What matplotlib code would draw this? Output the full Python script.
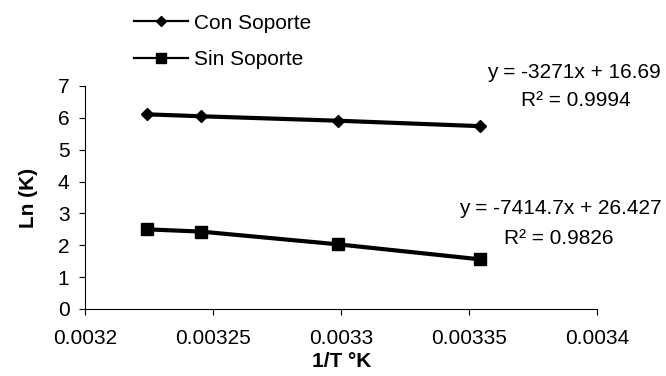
import numpy as np
from matplotlib import pyplot as plt
from matplotlib.lines import Line2D

plt.rcParams['font.family'] = ['Liberation Sans', 'DejaVu Sans']

# temperatures in C, x axis is 1/T in Kelvin
temps_c = [37, 35, 30, 25]
inv_t = [1 / (t + 273.15) for t in temps_c]
ln_k_con = [6.11, 6.05, 5.91, 5.74]
ln_k_sin = [2.50, 2.43, 2.03, 1.56]

eq_con = "y = -3271x + 16.69"
r2_con = "R² = 0.9994"
eq_sin = "y = -7414.7x + 26.427"
r2_sin = "R² = 0.9826"

x_ticks = [0.0032, 0.00325, 0.0033, 0.00335, 0.0034]
x_tick_labels = ["0.0032", "0.00325", "0.0033", "0.00335", "0.0034"]

fs = 15

fig = plt.figure(figsize=(6.66, 3.76), dpi=100)
ax = fig.add_axes([0.1276, 0.1782, 0.7695, 0.5931])

ax.plot(inv_t, ln_k_con, color='black', linewidth=3, marker='D',
        markersize=6.5, clip_on=False)
ax.plot(inv_t, ln_k_sin, color='black', linewidth=3, marker='s',
        markersize=8, clip_on=False)

ax.set_xlim(0.0032, 0.0034)
ax.set_ylim(0, 7)
ax.set_xticks(x_ticks)
ax.set_xticklabels(x_tick_labels)
ax.set_yticks(range(8))
ax.tick_params(axis='both', labelsize=fs, length=4.2, width=0.8, direction='out')
ax.tick_params(axis='x', pad=10)
ax.tick_params(axis='y', pad=7)
for side in ['top', 'right']:
    ax.spines[side].set_visible(False)
for side in ['left', 'bottom']:
    ax.spines[side].set_linewidth(0.8)

ax.set_xlabel("1/T °K", fontsize=fs, fontweight='bold', labelpad=3)
ax.set_ylabel("Ln (K)", fontsize=fs, fontweight='bold', labelpad=14)

# trendline equations
fig.text(574 / 666, 1 - 72 / 376, eq_con, ha='center', va='center', fontsize=fs)
fig.text(576 / 666, 1 - 101 / 376, r2_con, ha='center', va='center', fontsize=fs)
fig.text(560 / 666, 1 - 208 / 376, eq_sin, ha='center', va='center', fontsize=fs)
fig.text(559 / 666, 1 - 238 / 376, r2_sin, ha='center', va='center', fontsize=fs)

# legend handles are drawn thinner than the series lines
h1 = Line2D([], [], color='black', linewidth=1.6, marker='D', markersize=5)
h2 = Line2D([], [], color='black', linewidth=1.6, marker='s', markersize=6.5)
fig.legend(handles=[h1, h2], labels=["Con Soporte", "Sin Soporte"],
           loc='center left', bbox_to_anchor=(134 / 666, 1 - 41.5 / 376),
           frameon=False, fontsize=fs, handlelength=2.6, handletextpad=0.3,
           labelspacing=0.85, borderpad=0, borderaxespad=0)

fig.savefig("out.png", dpi=100)
